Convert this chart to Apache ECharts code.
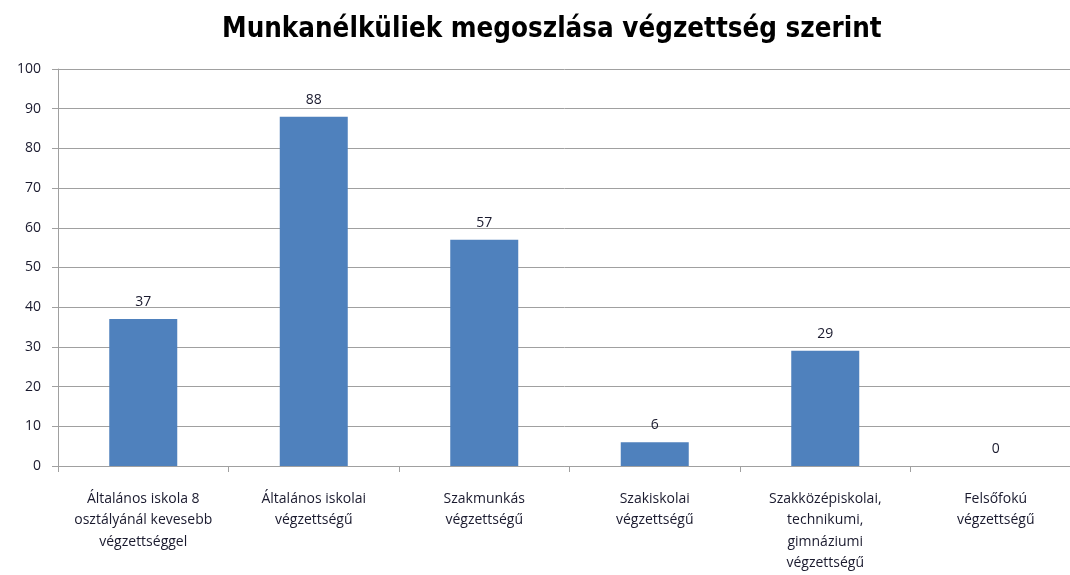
<!DOCTYPE html>
<html>
<head>
<meta charset="utf-8">
<script src="https://cdn.jsdelivr.net/npm/echarts@6/dist/echarts.min.js"></script>
<style>
  html, body { margin: 0; padding: 0; background: #fff; }
  #chart { width: 1070px; height: 575px; }
</style>
</head>
<body>
<div id="chart"></div>
<script>
// chart data
const categories = [
    'Általános iskola 8\nosztályánál kevesebb\nvégzettséggel',
    'Általános iskolai\nvégzettségű',
    'Szakmunkás\nvégzettségű',
    'Szakiskolai\nvégzettségű',
    'Szakközépiskolai,\ntechnikumi,\ngimnáziumi\nvégzettségű',
    'Felsőfokú\nvégzettségű'
];
const values = [37, 88, 57, 6, 29, 0];
const yTicks = { min: 0, max: 100, interval: 10 };

const font = '"Open Sans", "DejaVu Sans", sans-serif';
const lineColor = '#a0a0a0';

let myChart = echarts.init(document.getElementById('chart'));

// plot area runs past the right edge in the original (cropped screenshot)
let option = {
    animation: false,
    title: {
        text: 'Munkanélküliek megoszlása végzettség szerint',
        left: 217,
        top: 11,
        textStyle: {
            fontFamily: '"DejaVu Sans Condensed", "DejaVu Sans", sans-serif',
            fontSize: 27.5,
            fontWeight: 'bold',
            color: '#000'
        }
    },
    grid: {
        left: 58,
        width: 1023,
        top: 69,
        bottom: 109,
        containLabel: false,
        outerBoundsMode: 'none'
    },
    xAxis: {
        type: 'category',
        data: categories,
        axisLine: { lineStyle: { color: lineColor, width: 1 } },
        axisTick: { show: true, length: 6, lineStyle: { color: lineColor } },
        axisLabel: {
            interval: 0,
            margin: 22,
            fontFamily: font,
            fontSize: 14,
            lineHeight: 21.5,
            color: '#1a1a2e'
        }
    },
    yAxis: {
        type: 'value',
        min: yTicks.min,
        max: yTicks.max,
        interval: yTicks.interval,
        axisLine: { show: true, lineStyle: { color: lineColor } },
        axisTick: { show: true, length: 6, lineStyle: { color: lineColor } },
        splitLine: { lineStyle: { color: lineColor, width: 1 } },
        axisLabel: {
            margin: 17,
            fontFamily: font,
            fontSize: 14,
            color: '#1a1a2e'
        }
    },
    series: [
        {
            type: 'bar',
            data: values,
            barWidth: 68,
            itemStyle: { color: '#4f81bd' },
            label: {
                show: true,
                position: 'top',
                distance: 10,
                fontFamily: font,
                fontSize: 14,
                color: '#1a1a2e'
            }
        }
    ]
};

myChart.setOption(option);
</script>
</body>
</html>
